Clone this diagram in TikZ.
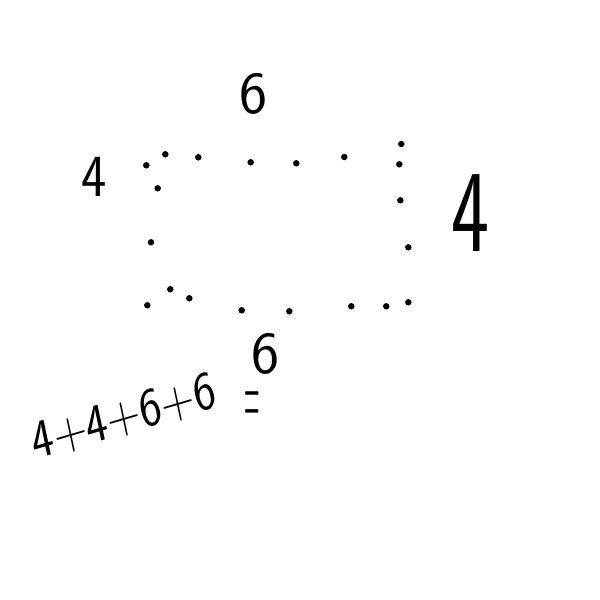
\documentclass[tikz,border=0pt]{standalone}
\usepackage{tikz}
\usetikzlibrary{positioning}

\tikzset{
  pebble/.style={circle, fill=black, inner sep=0pt, minimum size=0.13cm},
  digit/.style={font=\sffamily\fontsize{34}{34}\selectfont, inner sep=0pt}
}

\begin{document}
\begin{tikzpicture}[x=0.02cm, y=-0.02cm]
\useasboundingbox (0,0) rectangle (600,600);

% dots round the rectangle
\foreach \px/\py [count=\i] in {146.3/165.3, 165.3/154.3, 198.3/157.3, 250.7/162.3,
    296.3/163.3, 344.3/157, 401.3/144, 399.3/164.3, 157.7/188.3, 400.3/200.3,
    151/242.3, 408.3/247.3, 170.3/289.3, 189.3/298.3, 147.3/305.3, 241.7/310.3,
    289.3/311.3, 351.3/306.3, 386.3/306.3, 408.3/302.3}
  \node[pebble] (d\i) at (\px,\py) {};

% side counts
\node[digit] (topsix) at (254,94) {6};
\node[digit, xscale=0.9] (leftfour) at (94,177) {4};
\node[digit, font=\sffamily\fontsize{46}{46}\selectfont, yscale=1.45] (rightfour) at (470,213) {4};
\node[digit] (bottomsix) at (266,354) {6};

% the sum
\node[digit, font=\sffamily\fontsize{31}{31}\selectfont, xscale=0.85, rotate=14] (total) at (124,417) {4+4+6+6};
\node[digit, font=\sffamily\fontsize{22}{22}\selectfont, xscale=0.55, yscale=2.6] (equals) at (252,410) {=};
\end{tikzpicture}
\end{document}
